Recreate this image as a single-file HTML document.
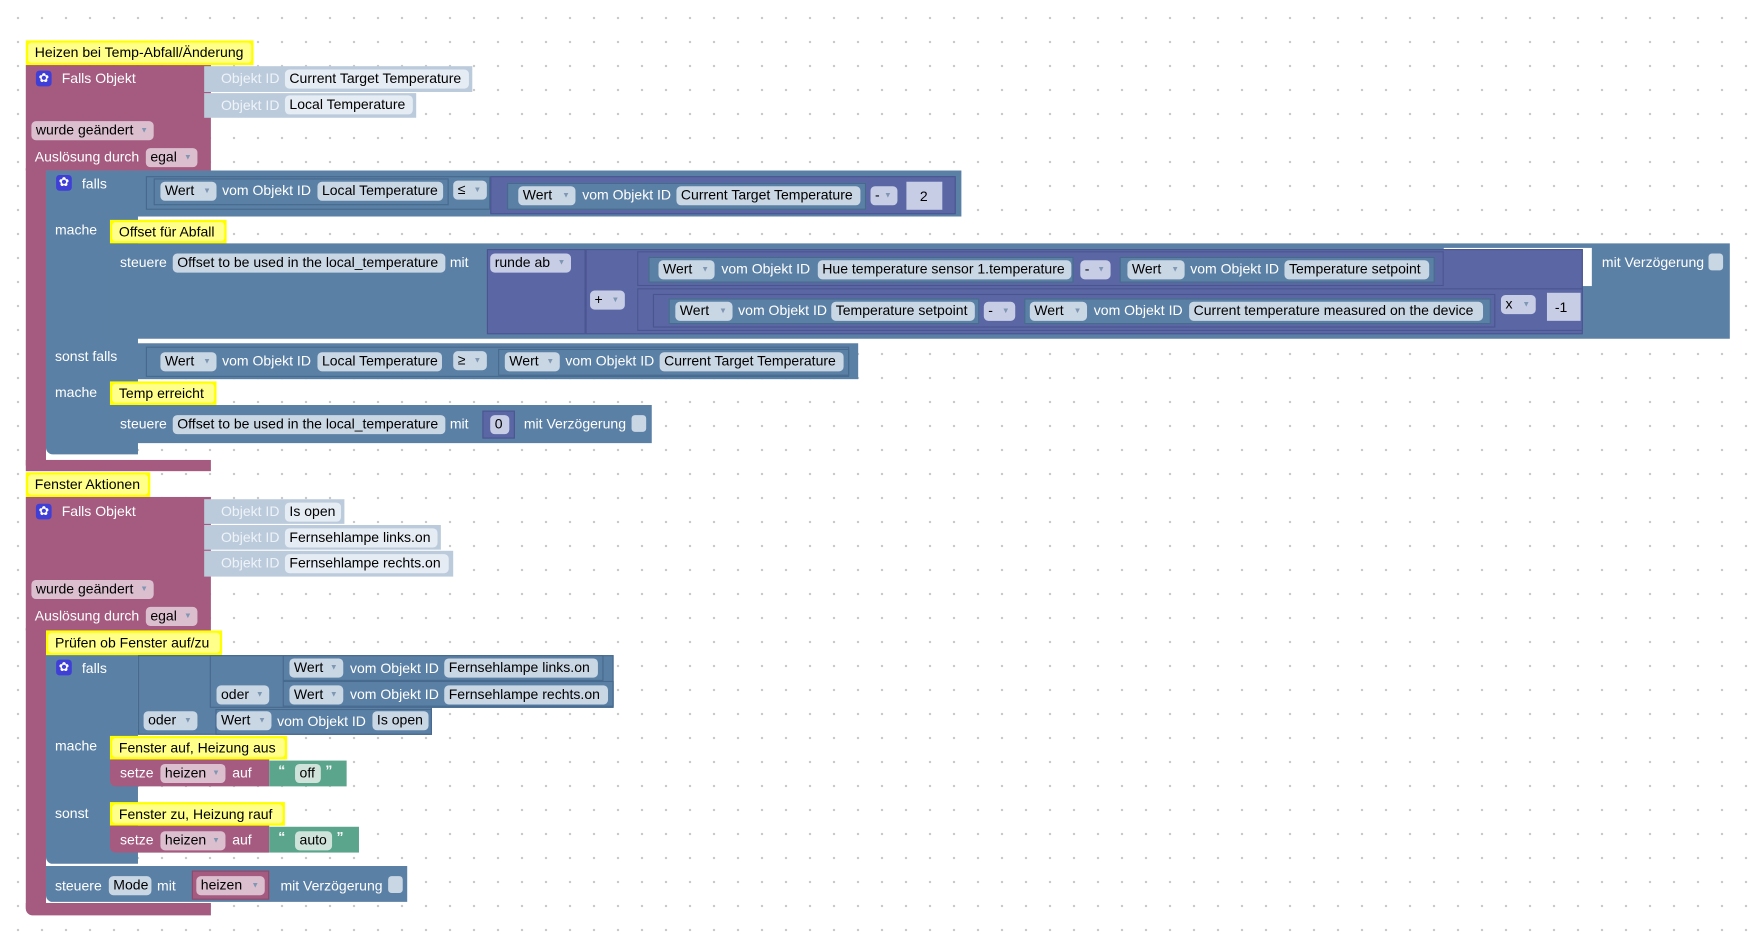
<!DOCTYPE html>
<html><head><meta charset="utf-8"><style>
html,body{margin:0;padding:0}
body{width:1750px;height:937px;overflow:hidden;background:#fff;background-image:radial-gradient(circle,#c8c8c8 1px,transparent 1.4px);background-size:24px 24px;background-position:6px 6px}
#c{position:absolute;left:0;top:0;width:1560px;height:835px;transform:scale(1.1218);transform-origin:0 0}
.a{position:absolute}
.t{position:absolute;color:#fff;font:12.5px/16px "Liberation Sans",sans-serif;white-space:nowrap}
.f{position:absolute;height:17px;line-height:17px;border-radius:4px;font:12.5px/17px "Liberation Sans",sans-serif;color:#000;padding-left:4px;box-sizing:border-box;white-space:nowrap;overflow:hidden;background:#c9d6e4}
.f i{font-style:normal;font-size:7px;line-height:17px;color:#7f97b2;position:absolute;right:5px;top:0}
.bl{background:#5b80a5}
.bo{background:#5b80a5;border:1px solid #46698d;box-sizing:border-box}
.pu{background:#5b67a5;border:1px solid #4a5590;box-sizing:border-box}
.pk{background:#a55b80}
.ob{background:#bccbdc}
.ob .t{color:#eef3f8}
.cm{position:absolute;background:#ffff00;box-sizing:border-box;padding:2px}
.cm span{display:block;background:#ffff8a;border-radius:3px;height:100%;font:12.5px "Liberation Sans",sans-serif;color:#000;padding-left:6px;box-sizing:border-box;line-height:18px;white-space:nowrap}
.gear{position:absolute;width:14px;height:14px;background:#3f3fd8;border-radius:3px;color:#fff;font-size:11px;line-height:14px;text-align:center}
.pf{background:#dcbfcf}
.of{background:#e6ecf3}
.nf{background:#c8cde6}
.gf{background:#cfe3da}
.chk{position:absolute;width:13px;height:15px;background:#c9d6e4;border-radius:3px}
.gr{background:#5ba58c}
</style></head><body><div id="c">

<div class="cm" style="left:23px;top:36px;width:203px;height:22px"><span>Heizen bei Temp-Abfall/Änderung</span></div>
<div class="a pk" style="left:23px;top:58px;width:165px;height:94px"></div>
<div class="a pk" style="left:23px;top:150px;width:18px;height:265px"></div>
<div class="a pk" style="left:23px;top:410px;width:165px;height:10px"></div>
<div class="gear" style="left:32px;top:63px">✿</div>
<div class="t" style="left:55px;top:62px">Falls Objekt</div>
<div class="a ob" style="left:182px;top:59px;width:239px;height:23px"><div class="t" style="left:15px;top:3px">Objekt ID</div></div>
<div class="f of" style="left:254px;top:62px;width:164px">Current Target Temperature</div>
<div class="a ob" style="left:182px;top:83px;width:189px;height:22px"><div class="t" style="left:15px;top:3px">Objekt ID</div></div>
<div class="f of" style="left:254px;top:85px;width:114px">Local Temperature</div>
<div class="f pf" style="left:28px;top:108px;width:109px">wurde geändert<i>▼</i></div>
<div class="t" style="left:31px;top:132px">Auslösung durch</div>
<div class="f pf" style="left:130px;top:132px;width:46px">egal<i>▼</i></div>

<div class="a bl" style="left:41px;top:152px;width:816px;height:41px"></div>
<div class="a bl" style="left:41px;top:190px;width:82px;height:215px;border-radius:0 0 0 6px"></div>
<div class="a bl" style="left:41px;top:306px;width:724px;height:32px"></div>
<div class="gear" style="left:50px;top:156px">✿</div>
<div class="t" style="left:73px;top:156px">falls</div>
<div class="a bo" style="left:130px;top:157px;width:307px;height:30px"></div>
<div class="a bo" style="left:137px;top:159px;width:263px;height:24px"></div>
<div class="f" style="left:143px;top:162px;width:50px">Wert<i>▼</i></div>
<div class="t" style="left:198px;top:162px">vom Objekt ID</div>
<div class="f" style="left:283px;top:162px;width:112px">Local Temperature</div>
<div class="f" style="left:404px;top:161px;width:30px">≤<i>▼</i></div>
<div class="a pu" style="left:437px;top:157px;width:415px;height:34px"></div>
<div class="a bo" style="left:452px;top:163px;width:320px;height:24px"></div>
<div class="f" style="left:462px;top:166px;width:51px">Wert<i>▼</i></div>
<div class="t" style="left:519px;top:166px">vom Objekt ID</div>
<div class="f" style="left:603px;top:166px;width:164px">Current Target Temperature</div>
<div class="f nf" style="left:776px;top:166px;width:24px">-<i>▼</i></div>
<div class="a" style="left:808px;top:162px;width:32px;height:25px;background:#c8cde6"></div>
<div class="t" style="left:820px;top:167px;color:#000">2</div>

<div class="t" style="left:49px;top:197px">mache</div>
<div class="cm" style="left:98px;top:196px;width:104px;height:21px"><span>Offset für Abfall</span></div>
<div class="a bl" style="left:98px;top:217px;width:1444px;height:85px;border-radius:0 0 0 6px"></div>
<div class="a" style="left:1287px;top:221px;width:132px;height:34px;background:#fff;background-image:radial-gradient(circle,#c8c8c8 1px,transparent 1.4px);background-size:21.4px 21.4px"></div>
<div class="t" style="left:107px;top:226px">steuere</div>
<div class="f" style="left:154px;top:226px;width:243px">Offset to be used in the local_temperature</div>
<div class="t" style="left:401px;top:226px">mit</div>
<div class="a pu" style="left:434px;top:222px;width:88px;height:76px"></div>
<div class="f nf" style="left:437px;top:226px;width:72px">runde ab<i>▼</i></div>
<div class="a pu" style="left:522px;top:222px;width:889px;height:76px"></div>
<div class="f nf" style="left:526px;top:259px;width:31px">+<i>▼</i></div>
<div class="a pu" style="left:568px;top:224px;width:719px;height:31px"></div>
<div class="a bo" style="left:578px;top:229px;width:379px;height:23px"></div>
<div class="f" style="left:587px;top:232px;width:50px">Wert<i>▼</i></div>
<div class="t" style="left:643px;top:232px">vom Objekt ID</div>
<div class="f" style="left:729px;top:232px;width:226px">Hue temperature sensor 1.temperature</div>
<div class="f nf" style="left:963px;top:232px;width:27px">-<i>▼</i></div>
<div class="a bo" style="left:998px;top:229px;width:281px;height:23px"></div>
<div class="f" style="left:1005px;top:232px;width:51px">Wert<i>▼</i></div>
<div class="t" style="left:1061px;top:232px">vom Objekt ID</div>
<div class="f" style="left:1145px;top:232px;width:129px">Temperature setpoint</div>
<div class="a pu" style="left:568px;top:257px;width:843px;height:38px"></div>
<div class="a pu" style="left:582px;top:262px;width:751px;height:30px"></div>
<div class="a bo" style="left:596px;top:266px;width:277px;height:23px"></div>
<div class="f" style="left:602px;top:269px;width:51px">Wert<i>▼</i></div>
<div class="t" style="left:658px;top:269px">vom Objekt ID</div>
<div class="f" style="left:741px;top:269px;width:128px">Temperature setpoint</div>
<div class="f nf" style="left:877px;top:269px;width:28px">-<i>▼</i></div>
<div class="a bo" style="left:913px;top:266px;width:416px;height:23px"></div>
<div class="f" style="left:918px;top:269px;width:51px">Wert<i>▼</i></div>
<div class="t" style="left:975px;top:269px">vom Objekt ID</div>
<div class="f" style="left:1060px;top:269px;width:262px">Current temperature measured on the device</div>
<div class="f nf" style="left:1338px;top:263px;width:31px">x<i>▼</i></div>
<div class="a" style="left:1379px;top:261px;width:30px;height:25px;background:#c8cde6"></div>
<div class="t" style="left:1386px;top:266px;color:#000">-1</div>
<div class="t" style="left:1428px;top:226px">mit Verzögerung</div>
<div class="chk" style="left:1523px;top:226px"></div>

<div class="t" style="left:49px;top:310px">sonst falls</div>
<div class="a bo" style="left:130px;top:309px;width:627px;height:27px"></div>
<div class="f" style="left:143px;top:314px;width:50px">Wert<i>▼</i></div>
<div class="t" style="left:198px;top:314px">vom Objekt ID</div>
<div class="f" style="left:283px;top:314px;width:111px">Local Temperature</div>
<div class="f" style="left:404px;top:313px;width:30px">≥<i>▼</i></div>
<div class="a bo" style="left:444px;top:311px;width:313px;height:24px"></div>
<div class="f" style="left:450px;top:314px;width:49px">Wert<i>▼</i></div>
<div class="t" style="left:504px;top:314px">vom Objekt ID</div>
<div class="f" style="left:588px;top:314px;width:164px">Current Target Temperature</div>

<div class="t" style="left:49px;top:342px">mache</div>
<div class="cm" style="left:98px;top:340px;width:95px;height:21px"><span>Temp erreicht</span></div>
<div class="a bl" style="left:98px;top:361px;width:483px;height:34px;border-radius:0 0 0 6px"></div>
<div class="t" style="left:107px;top:370px">steuere</div>
<div class="f" style="left:154px;top:370px;width:243px">Offset to be used in the local_temperature</div>
<div class="t" style="left:401px;top:370px">mit</div>
<div class="a pu" style="left:430px;top:366px;width:29px;height:25px"></div>
<div class="f nf" style="left:437px;top:370px;width:17px">0</div>
<div class="t" style="left:467px;top:370px">mit Verzögerung</div>
<div class="chk" style="left:563px;top:370px"></div>

<div class="cm" style="left:23px;top:421px;width:111px;height:22px"><span>Fenster Aktionen</span></div>
<div class="a pk" style="left:23px;top:443px;width:165px;height:119px"></div>
<div class="a pk" style="left:23px;top:560px;width:18px;height:255px;border-radius:0 0 0 6px"></div>
<div class="a pk" style="left:23px;top:805px;width:165px;height:11px;border-radius:0 0 0 6px"></div>
<div class="gear" style="left:32px;top:449px">✿</div>
<div class="t" style="left:55px;top:448px">Falls Objekt</div>
<div class="a ob" style="left:182px;top:445px;width:125px;height:22px"><div class="t" style="left:15px;top:3px">Objekt ID</div></div>
<div class="f of" style="left:254px;top:448px;width:50px">Is open</div>
<div class="a ob" style="left:182px;top:468px;width:211px;height:22px"><div class="t" style="left:15px;top:3px">Objekt ID</div></div>
<div class="f of" style="left:254px;top:471px;width:136px">Fernsehlampe links.on</div>
<div class="a ob" style="left:182px;top:491px;width:222px;height:23px"><div class="t" style="left:15px;top:3px">Objekt ID</div></div>
<div class="f of" style="left:254px;top:494px;width:146px">Fernsehlampe rechts.on</div>
<div class="f pf" style="left:28px;top:517px;width:109px">wurde geändert<i>▼</i></div>
<div class="t" style="left:31px;top:541px">Auslösung durch</div>
<div class="f pf" style="left:130px;top:541px;width:46px">egal<i>▼</i></div>

<div class="cm" style="left:41px;top:562px;width:157px;height:22px"><span>Prüfen ob Fenster auf/zu</span></div>
<div class="a bl" style="left:41px;top:584px;width:82px;height:186px;border-radius:0 0 0 6px"></div>
<div class="gear" style="left:50px;top:588px">✿</div>
<div class="t" style="left:73px;top:588px">falls</div>
<div class="a bo" style="left:123px;top:584px;width:262px;height:71px"></div>
<div class="a bo" style="left:187px;top:584px;width:360px;height:47px"></div>
<div class="a bo" style="left:252px;top:584px;width:286px;height:23px"></div>
<div class="f" style="left:258px;top:587px;width:48px">Wert<i>▼</i></div>
<div class="t" style="left:312px;top:588px">vom Objekt ID</div>
<div class="f" style="left:396px;top:587px;width:137px">Fernsehlampe links.on</div>
<div class="a bo" style="left:252px;top:607px;width:295px;height:23px"></div>
<div class="f" style="left:193px;top:611px;width:47px">oder<i>▼</i></div>
<div class="f" style="left:258px;top:611px;width:48px">Wert<i>▼</i></div>
<div class="t" style="left:312px;top:611px">vom Objekt ID</div>
<div class="f" style="left:396px;top:611px;width:146px">Fernsehlampe rechts.on</div>
<div class="a bo" style="left:192px;top:632px;width:193px;height:23px"></div>
<div class="f" style="left:128px;top:634px;width:48px">oder<i>▼</i></div>
<div class="f" style="left:193px;top:634px;width:49px">Wert<i>▼</i></div>
<div class="t" style="left:247px;top:635px">vom Objekt ID</div>
<div class="f" style="left:332px;top:634px;width:50px">Is open</div>

<div class="t" style="left:49px;top:657px">mache</div>
<div class="cm" style="left:98px;top:656px;width:158px;height:21px"><span>Fenster auf, Heizung aus</span></div>
<div class="a pk" style="left:98px;top:677px;width:142px;height:24px;border-radius:0 0 0 5px"></div>
<div class="t" style="left:107px;top:681px">setze</div>
<div class="f pf" style="left:143px;top:681px;width:58px">heizen<i>▼</i></div>
<div class="t" style="left:207px;top:681px">auf</div>
<div class="a gr" style="left:240px;top:678px;width:69px;height:23px"></div>
<div class="t" style="left:248px;top:679px;font-weight:bold">“</div>
<div class="f gf" style="left:263px;top:681px;width:23px">off</div>
<div class="t" style="left:290px;top:679px;font-weight:bold">”</div>

<div class="t" style="left:49px;top:717px">sonst</div>
<div class="cm" style="left:98px;top:715px;width:156px;height:21px"><span>Fenster zu, Heizung rauf</span></div>
<div class="a pk" style="left:98px;top:736px;width:142px;height:24px;border-radius:0 0 0 5px"></div>
<div class="t" style="left:107px;top:741px">setze</div>
<div class="f pf" style="left:143px;top:741px;width:58px">heizen<i>▼</i></div>
<div class="t" style="left:207px;top:741px">auf</div>
<div class="a gr" style="left:240px;top:737px;width:80px;height:23px"></div>
<div class="t" style="left:248px;top:738px;font-weight:bold">“</div>
<div class="f gf" style="left:263px;top:741px;width:33px">auto</div>
<div class="t" style="left:300px;top:738px;font-weight:bold">”</div>

<div class="a bl" style="left:41px;top:772px;width:322px;height:32px;border-radius:0 0 0 6px"></div>
<div class="t" style="left:49px;top:782px">steuere</div>
<div class="f" style="left:97px;top:781px;width:38px">Mode</div>
<div class="t" style="left:140px;top:782px">mit</div>
<div class="a pk" style="left:171px;top:776px;width:69px;height:26px;border:1px solid #8c4a6b;box-sizing:border-box"></div>
<div class="f pf" style="left:175px;top:781px;width:61px">heizen<i>▼</i></div>
<div class="t" style="left:250px;top:782px">mit Verzögerung</div>
<div class="chk" style="left:346px;top:781px"></div>

</div></body></html>
